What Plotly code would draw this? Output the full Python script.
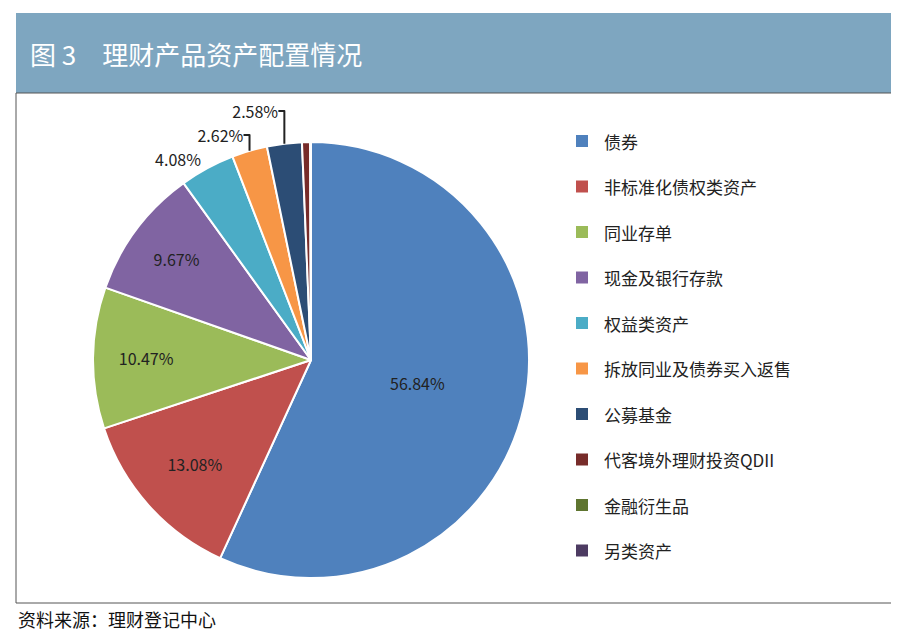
import plotly.graph_objects as go

categories = ["债券", "非标准化债权类资产", "同业存单", "现金及银行存款", "权益类资产",
              "拆放同业及债券买入返售", "公募基金", "代客境外理财投资QDII", "金融衍生品", "另类资产"]
values = [56.84, 13.08, 10.47, 9.67, 4.08, 2.62, 2.58, 0.60, 0.03, 0.03]
colors = ["#4f81bd", "#c0504d", "#9bbb59", "#8064a2", "#4bacc6",
          "#f79646", "#2c4d75", "#772c2a", "#5f7530", "#4d3b62"]
labels_text = [f"{v:.2f}%" if v > 1 else "" for v in values]
positions = ["inside"] * 4 + ["outside"] * 3 + ["none"] * 3

W, H = 899, 634
fig = go.Figure(go.Pie(
    labels=categories, values=values, text=labels_text, textinfo="text",
    textposition=positions, sort=False, direction="clockwise", rotation=0,
    marker=dict(colors=colors, line=dict(color="white", width=2)),
    textfont=dict(size=16, color="#222"), insidetextorientation="horizontal",
    showlegend=False,
    domain=dict(x=[(303-218)/W, (303+218)/W], y=[(H-570)/H, (H-134)/H]),
))

shapes = [
    dict(type="rect", xref="paper", yref="paper", x0=8/W, x1=892/W, y0=1-85/H, y1=1-5/H,
         fillcolor="#7ea6c0", line=dict(width=0), layer="below"),
    dict(type="rect", xref="paper", yref="paper", x0=8/W, x1=892/W, y0=1-595/H, y1=1-85/H,
         fillcolor="rgba(0,0,0,0)", line=dict(color="#555", width=1)),
]
annotations = [
    dict(text="图 3　理财产品资产配置情况", x=20/W, y=1-45/H, xref="paper", yref="paper",
         xanchor="left", yanchor="middle", showarrow=False, font=dict(size=26, color="white")),
    dict(text="资料来源：理财登记中心", x=8/W, y=1-611/H, xref="paper", yref="paper",
         xanchor="left", yanchor="middle", showarrow=False, font=dict(size=18, color="#111")),
]
for i, (c, col) in enumerate(zip(categories, colors)):
    yc = 133 + i * 45.5
    shapes.append(dict(type="rect", xref="paper", yref="paper", x0=568/W, x1=580/W,
                       y0=1-(yc+6)/H, y1=1-(yc-6)/H, fillcolor=col, line=dict(width=0)))
    annotations.append(dict(text=c, x=594/W, y=1-yc/H, xref="paper", yref="paper",
                            xanchor="left", yanchor="middle", showarrow=False,
                            font=dict(size=17, color="#222")))

fig.update_layout(width=W, height=H, margin=dict(l=0, r=0, t=0, b=0),
                  paper_bgcolor="white", shapes=shapes, annotations=annotations,
                  font=dict(family="Noto Sans CJK SC"))
fig.write_html("out.html")
